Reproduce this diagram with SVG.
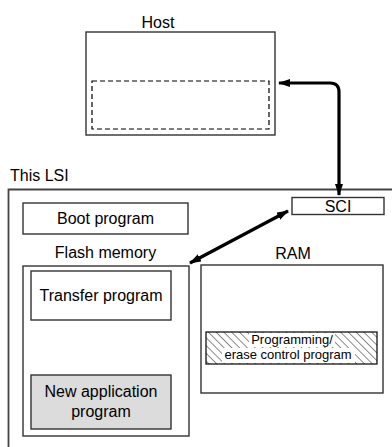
<svg xmlns="http://www.w3.org/2000/svg" width="392" height="447" viewBox="0 0 392 447">
<style>
.box{fill:#fff;stroke:#333;stroke-width:1.4}
.t{font-family:"Liberation Sans",Arial,sans-serif;font-size:16px;fill:#000;text-anchor:middle}
.ts{font-family:"Liberation Sans",Arial,sans-serif;font-size:13px;fill:#000;text-anchor:middle}
.conn{fill:none;stroke:#000;stroke-width:3.2}
</style>
<defs>
<pattern id="hatch" width="5.5" height="5.5" patternUnits="userSpaceOnUse" patternTransform="rotate(-45)">
<rect width="5.5" height="5.5" fill="#fff"/>
<line x1="0" y1="0" x2="0" y2="5.5" stroke="#000" stroke-width="0.9"/>
</pattern>
<marker id="ah" viewBox="0 0 12 8" refX="11" refY="4" markerWidth="12" markerHeight="8" markerUnits="userSpaceOnUse" orient="auto-start-reverse">
<path d="M0,0 L12,4 L0,8 Z" fill="#000"/>
</marker>
</defs>

<g id="host">
<text class="t" x="158" y="28">Host</text>
<rect class="box" x="86" y="32" width="189" height="103"/>
<rect x="92" y="81" width="177" height="48" fill="none" stroke="#000" stroke-width="1.2" stroke-dasharray="5,3"/>
</g>

<g id="lsi">
<text class="t" x="10" y="181" style="text-anchor:start">This LSI</text>
<path d="M8.5,447 V189.5 H392" fill="none" stroke="#444" stroke-width="1.8"/>
</g>

<g id="sci">
<rect class="box" x="292" y="197.5" width="92" height="17"/>
<text class="t" x="338" y="212">SCI</text>
</g>

<g id="boot">
<rect class="box" x="23" y="203" width="165" height="31"/>
<text class="t" x="105.5" y="224">Boot program</text>
</g>

<g id="flash">
<text class="t" x="105.5" y="258">Flash memory</text>
<rect class="box" x="23" y="266" width="166" height="170"/>
</g>

<g id="transfer">
<rect class="box" x="31" y="271" width="140" height="49"/>
<text class="t" x="101" y="301">Transfer program</text>
</g>

<g id="newapp">
<rect x="31" y="375" width="140" height="54" fill="#dcdcdc" stroke="#333" stroke-width="1.4"/>
<text class="t" x="101" y="397">New application</text>
<text class="t" x="101" y="417">program</text>
</g>

<g id="ram">
<text class="t" x="293" y="259">RAM</text>
<rect class="box" x="201" y="265" width="182" height="128"/>
</g>

<g id="pecp">
<rect x="206" y="332" width="171" height="32" fill="url(#hatch)" stroke="#000" stroke-width="1.2"/>
<rect x="249" y="333" width="86" height="14" fill="#fff"/>
<rect x="222" y="348" width="133" height="15" fill="#fff"/>
<text class="ts" x="292" y="344">Programming/</text>
<text class="ts" x="288" y="358.5">erase control program</text>
</g>

<g id="connectors">
<path class="conn" d="M279,83 H330 Q339,83 339,92 V195" marker-start="url(#ah)" marker-end="url(#ah)"/>
<path class="conn" d="M190,263 L288,211" marker-start="url(#ah)" marker-end="url(#ah)"/>
</g>
</svg>
